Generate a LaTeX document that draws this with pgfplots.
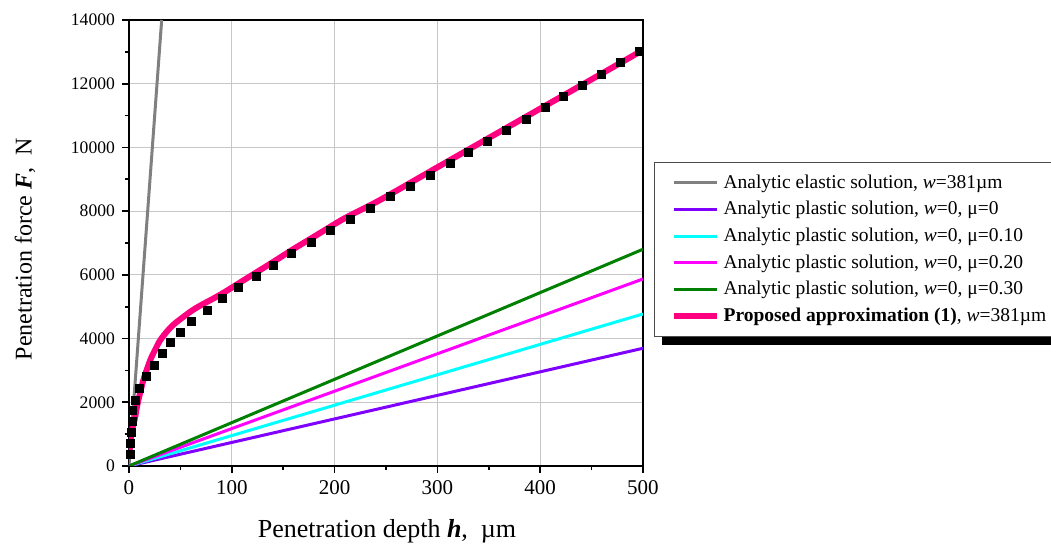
\documentclass[border=0pt]{standalone}
\usepackage{pgfplots}
\pgfplotsset{compat=1.18}
\usepackage{fontspec}
\setmainfont{Liberation Serif}
\definecolor{cgray}{RGB}{128,128,128}
\definecolor{cpurple}{RGB}{128,0,255}
\definecolor{ccyan}{RGB}{0,255,255}
\definecolor{cmag}{RGB}{255,0,255}
\definecolor{cgreen}{RGB}{0,128,0}
\definecolor{cpink}{RGB}{255,0,128}
\begin{document}
\begin{tikzpicture}
\path[use as bounding box] (-64.5pt,-39pt) rectangle (461pt,233pt);
% legend shadow (drawn behind the white legend box)
\fill[black] (266.5pt,60.5pt) rectangle (475pt,130pt);
\begin{axis}[
  at={(0,0)}, anchor=south west,
  width=257pt, height=223pt, scale only axis,
  xmin=0, xmax=500, ymin=0, ymax=14000,
  xtick={0,100,...,500}, ytick={0,2000,...,14000},
  minor x tick num=1, minor y tick num=1,
  tick align=outside, tick pos=left,
  major tick length=3.5pt, minor tick length=2pt,
  every tick/.style={black, line width=0.8pt},
  axis line style={black, line width=0.9pt},
  grid=major, major grid style={black!22, line width=0.5pt},
  scaled y ticks=false,
  /pgf/number format/.cd, set thousands separator={}, assume math mode=true, /pgfplots/.cd,
  xticklabel style={font=\fontsize{10.5}{12}\selectfont},
  yticklabel style={font=\fontsize{8.8}{10}\selectfont},
  xlabel={Penetration depth \textbf{\textit{h}},\ \ µm},
  ylabel={Penetration force \textbf{\textit{F}},\ \ N},
  xlabel style={font=\fontsize{13}{15}\selectfont, at={(axis description cs:0.502,-0.1614)}, anchor=base},
  ylabel style={font=\fontsize{12}{14}\selectfont, at={(axis description cs:-0.2023,0.486)}, anchor=center},
  legend cell align=left,
  legend image code/.code={\draw[#1] (0pt,0pt) -- (21.5pt,0pt);},
  legend style={at={(axis description cs:1.0214,0.6816)}, anchor=north west,
    draw=black!70, line width=0.6pt, fill=white,
    font=\fontsize{9.75}{11.5}\selectfont,
    inner xsep=8pt, inner ysep=4pt, row sep=1.05pt},
]
% black squares (numerical data)
\addplot[only marks, mark=square*, mark size=2pt, black, forget plot] coordinates {
(1.0,350)(1.6,700)(2.2,1050)(2.9,1400)(3.6,1758)(5.8,2072)(9.7,2439)(16.5,2803)
(24.6,3170)(32.8,3537)(40.6,3870)(49.6,4196)(60.3,4529)(76.2,4896)(91.1,5264)
(106.3,5609)(123.5,5942)(140.4,6309)(158.3,6676)(177.0,7021)(196.2,7380)(215.4,7730)
(234.6,8090)(253.9,8453)(273.3,8767)(293.5,9134)(313.0,9501)(330.1,9834)(348.6,10179)
(367.5,10546)(386.3,10892)(404.7,11259)(422.5,11591)(441.4,11959)(459.9,12304)
(477.6,12659)(496.4,13004)};
\addplot[cgray, line width=1.5pt] coordinates {(0,0)(31.8,14000)};
\addlegendentry{Analytic elastic solution, \textit{w}=381µm}
\addplot[cpurple, line width=1.5pt] coordinates {(0,0)(500,3695)};
\addlegendentry{Analytic plastic solution, \textit{w}=0, μ=0}
\addplot[ccyan, line width=1.5pt] coordinates {(0,0)(500,4772)};
\addlegendentry{Analytic plastic solution, \textit{w}=0, μ=0.10}
\addplot[cmag, line width=1.5pt] coordinates {(0,0)(500,5870)};
\addlegendentry{Analytic plastic solution, \textit{w}=0, μ=0.20}
\addplot[cgreen, line width=1.5pt] coordinates {(0,0)(500,6803)};
\addlegendentry{Analytic plastic solution, \textit{w}=0, μ=0.30}
\addplot[cpink, line width=3pt, smooth] coordinates {
(0.3,300)(1,650)(2,950)(3.5,1220)(5.8,1500)(8,1900)(10.7,2282)(14,2700)(17.2,3013)
(21,3350)(25.3,3641)(30,3930)(36.7,4215)(43,4430)(49.6,4600)(60,4850)(69,5030)
(80,5220)(90,5400)(101.5,5628)(120,6000)(140,6400)(160,6810)(182.6,7250)(210,7780)
(244.2,8349)(300,9376)(350,10296)(400,11216)(450,12136)(500,13057)};
\addlegendentry{\textbf{Proposed approximation (1)}, \textit{w}=381µm}
\end{axis}
\end{tikzpicture}
\end{document}
